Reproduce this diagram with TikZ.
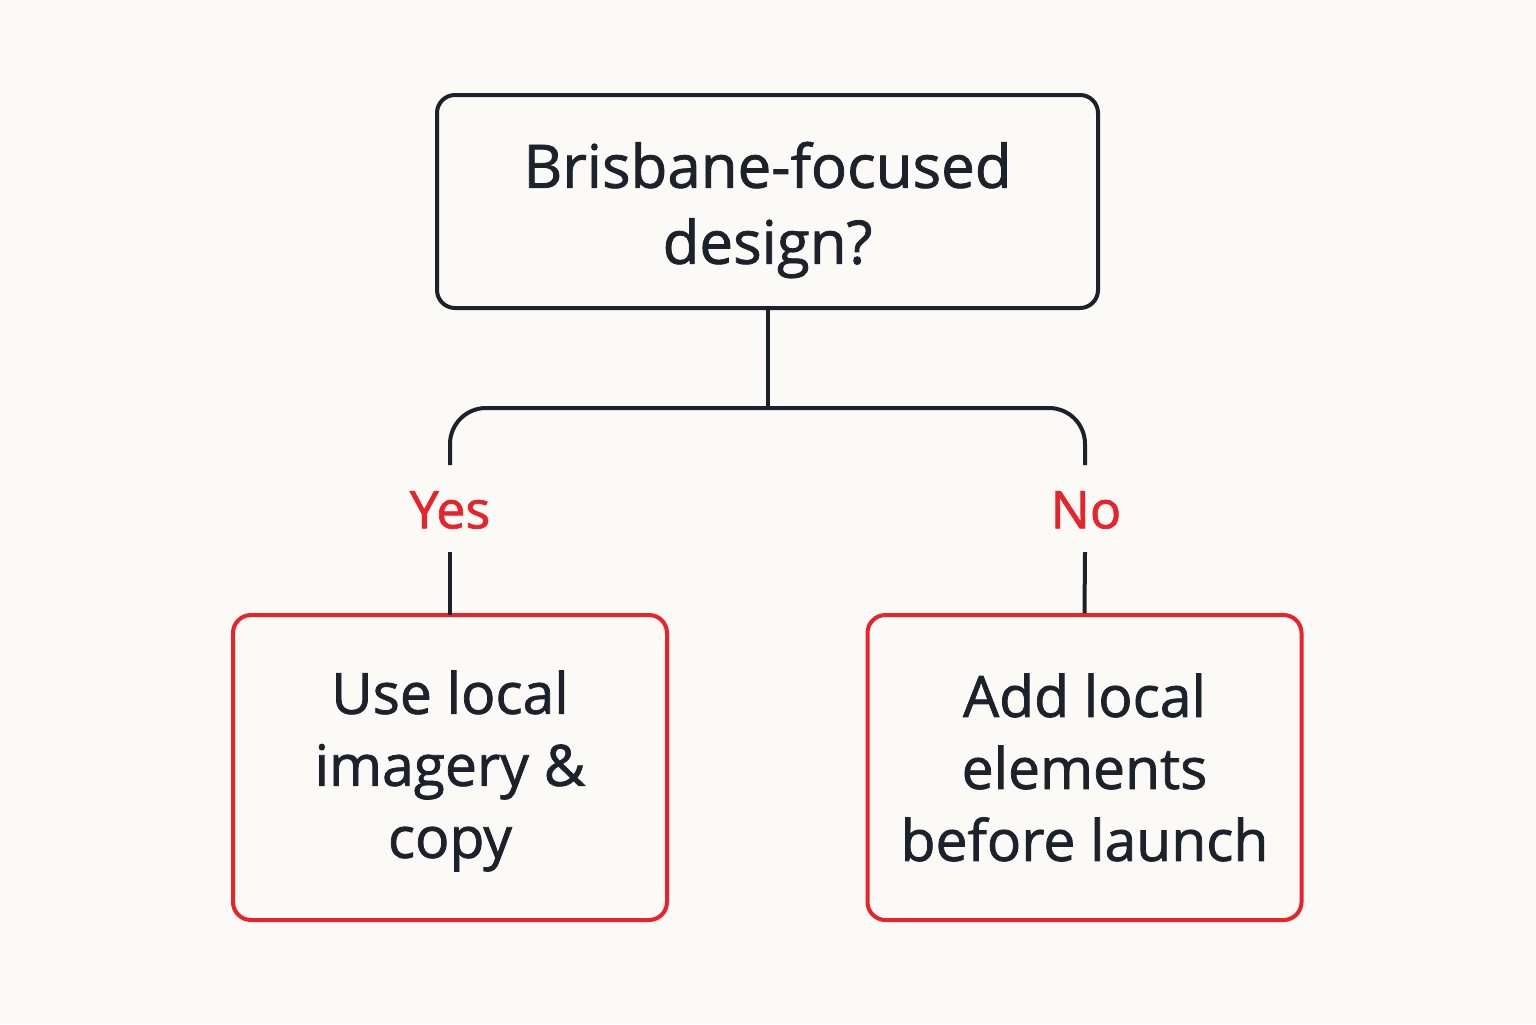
\documentclass[tikz,border=0pt]{standalone}
\usepackage{fontspec}
\setmainfont[FakeBold=1.3]{Open Sans}
\newfontfamily\bodyfont[FakeBold=1.3]{Open Sans}
\definecolor{bg}{HTML}{FCFAF7}
\definecolor{ink}{HTML}{1C222B}
\definecolor{rd}{HTML}{E8232A}
\begin{document}
\begin{tikzpicture}[x=0.5pt,y=-0.5pt,
  box/.style={draw=ink,line width=2pt,rounded corners=9pt,minimum width=330.5pt,minimum height=106.5pt,align=center,text=ink,font=\bodyfont\fontsize{30}{38}\selectfont},
  rbox/.style={box,draw=rd,minimum width=217pt,minimum height=152.5pt,font=\bodyfont\fontsize{28.5}{36}\selectfont},
  lab/.style={text=rd,font=\bodyfont\fontsize{26}{30}\selectfont},
  conn/.style={draw=ink,line width=2pt}]
\fill[bg] (0,0) rectangle (1536,1024);
\useasboundingbox (0,0) rectangle (1536,1024);
\draw[draw=ink,line width=2pt,rounded corners=9pt] (437,95) rectangle (1098,308);
\node[align=center,text=ink,font=\bodyfont\fontsize{30}{38}\selectfont,minimum width=330.5pt,minimum height=106.5pt] (top) at (767.5,210) {Brisbane-focused\\design?};
\draw[draw=rd,line width=2pt,rounded corners=9pt] (233,615) rectangle (667,920);
\node[align=center,text=ink,font=\bodyfont\fontsize{28.5}{36}\selectfont] (L) at (450,771) {Use local\\imagery \&\\copy};
\node[rbox] (R) at (1084.5,767.5) {Add local\\elements\\before launch};
\node[lab] (yes) at (450,510) {Yes};
\node[lab] (no) at (1086,510) {No};
\coordinate (ts) at (767.5,308);
\coordinate (j) at (767.5,408);
\coordinate (ya) at (450,465);
\coordinate (na) at (1085,465);
\coordinate (ln) at (450,615);
\draw[conn] (ts) -- (j);
\draw[conn,rounded corners=18pt] (ya) -- (450,408) -- (1085,408) -- (na);
\draw[conn] (450,552) -- (ln);
\draw[conn] (1085,552) -- (R.north);
\end{tikzpicture}
\end{document}
